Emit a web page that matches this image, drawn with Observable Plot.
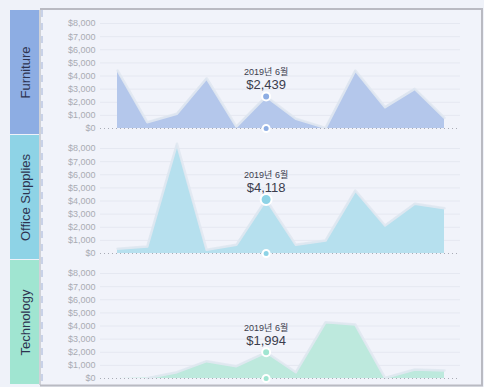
<!DOCTYPE html>
<html>
<head>
<meta charset="utf-8">
<script src="https://cdn.jsdelivr.net/npm/d3@7"></script>
<script src="https://cdn.jsdelivr.net/npm/@observablehq/plot@0.6"></script>
<style>
  html, body { margin: 0; padding: 0; background: #eff2f9; }
  #chart svg { display: block; }
</style>
</head>
<body>
<div id="chart"></div>
<script>
// ---- data ----
const categories = ["Furniture", "Office Supplies", "Technology"];
const months = [1, 2, 3, 4, 5, 6, 7, 8, 9, 10, 11, 12];
const furniture = [4420, 480, 1120, 3830, 150, 2439, 740, 50, 4420, 1630, 3020, 810];
const officeSupplies = [360, 530, 8360, 280, 660, 4118, 660, 990, 4800, 2130, 3790, 3450];
const technology = [null, 30, 480, 1320, 940, 1994, 480, 4290, 4110, 50, 690, 610];
const yTicks = [0, 1000, 2000, 3000, 4000, 5000, 6000, 7000, 8000];
const highlightMonth = 6;
const highlightLabel = "2019년 6월";

const stripColors = ["#8dade3", "#8ed3e6", "#a0e5d1"];
const areaColors = ["#b4c7eb", "#b6e0ee", "#bde9dd"];

const series = [furniture, officeSupplies, technology];
const rows = [];
categories.forEach((c, i) => months.forEach((m, j) => rows.push({category: c, month: m, value: series[i][j], idx: i})));
const hi = rows.filter(d => d.month === highlightMonth);
const fmt = d => "$" + d3.format(",")(d);
const font = "'Liberation Sans', Arial, 'Noto Sans CJK KR', sans-serif";

const chart = Plot.plot({
  width: 484,
  height: 387,
  marginTop: 10,
  marginBottom: 2,
  marginLeft: 100,
  marginRight: 24,
  style: {background: "transparent", fontFamily: font},
  x: {domain: [1, 12], insetLeft: 17, insetRight: 16, axis: null, label: null},
  y: {domain: [0, 8000], insetTop: 13, insetBottom: 7, axis: null, label: null},
  fy: {domain: categories, padding: 0, axis: null, label: null},
  color: {domain: categories, range: areaColors},
  marks: [
    Plot.ruleY(yTicks.filter(d => d > 0), {stroke: "#e5e8f1", strokeWidth: 1}),
    Plot.axisY({ticks: yTicks, tickSize: 0, tickPadding: 5, tickFormat: fmt, fill: "#a9abb3", fontSize: 9, fontFamily: font, label: null}),
    Plot.areaY(rows, {x: "month", y: "value", fy: "category", fill: "category", fillOpacity: 1}),
    Plot.lineY(rows, {x: "month", y: "value", fy: "category", stroke: "#e1e8f1", strokeWidth: 2.5, strokeOpacity: 0.9}),
    Plot.ruleY([0], {stroke: "#a9acb6", strokeDasharray: "1,3", strokeWidth: 1}),
    Plot.dot(hi, {x: "month", y: 0, fy: "category", r: 3.5, fill: d => stripColors[d.idx], stroke: "white", strokeWidth: 2}),
    Plot.dot(hi.filter(d => d.idx !== 1), {x: "month", y: "value", fy: "category", r: 4, fill: d => stripColors[d.idx], stroke: "white", strokeWidth: 2}),
    Plot.dot(hi.filter(d => d.idx === 1), {x: "month", y: "value", fy: "category", r: 5.5, fill: d => stripColors[d.idx], stroke: "white", strokeWidth: 2}),
    Plot.text(hi, {x: "month", y: "value", fy: "category", text: d => fmt(d.value), dy: -11.5, fontSize: 13, fill: "#3b3d4d", fontFamily: font}),
    Plot.text(hi, {x: "month", y: "value", fy: "category", text: () => highlightLabel, dy: -24, fontSize: 9, fill: "#3b3d4d", fontFamily: font})
  ]
});

document.getElementById("chart").appendChild(chart);

// facet strips, labels and frame drawn from the fy scale
const svgSel = d3.select(chart);
const fyScale = chart.scale("fy");
const bw = fyScale.bandwidth ?? ((fyScale.range[1] - fyScale.range[0]) / categories.length);
const decoLayer = svgSel.insert("g", ":first-child");
const overLayer = svgSel.append("g");
categories.forEach((c, i) => {
  const y0 = fyScale.apply(c);
  overLayer.append("rect").attr("x", 10).attr("y", y0).attr("width", 29).attr("height", bw - 1).attr("fill", stripColors[i]);
  overLayer.append("text")
    .attr("transform", `translate(25,${y0 + bw / 2}) rotate(-90)`)
    .attr("text-anchor", "middle").attr("dy", "0.35em")
    .attr("font-size", 13).attr("font-family", font).attr("fill", "#2d3350")
    .text(c);
});
const yTop = fyScale.apply(categories[0]);
const yBot = fyScale.apply(categories[2]) + bw;
overLayer.append("rect").attr("x", 39).attr("y", yTop).attr("width", 2).attr("height", yBot - yTop).attr("fill", "#000").attr("fill-opacity", 0.13);
overLayer.append("line").attr("x1", 42).attr("x2", 42).attr("y1", yTop).attr("y2", yBot).attr("stroke", "#c9d2e8").attr("stroke-width", 2).attr("stroke-dasharray", "7,6");
decoLayer.append("rect").attr("x", 41).attr("y", yTop).attr("width", 440).attr("height", yBot - yTop).attr("fill", "#f1f3fa");
overLayer.append("path")
  .attr("d", `M40,${yTop - 1} H482 V${yBot + 0.5} H40`)
  .attr("fill", "none").attr("stroke", "#b9bac2").attr("stroke-width", 2);
</script>
</body>
</html>
